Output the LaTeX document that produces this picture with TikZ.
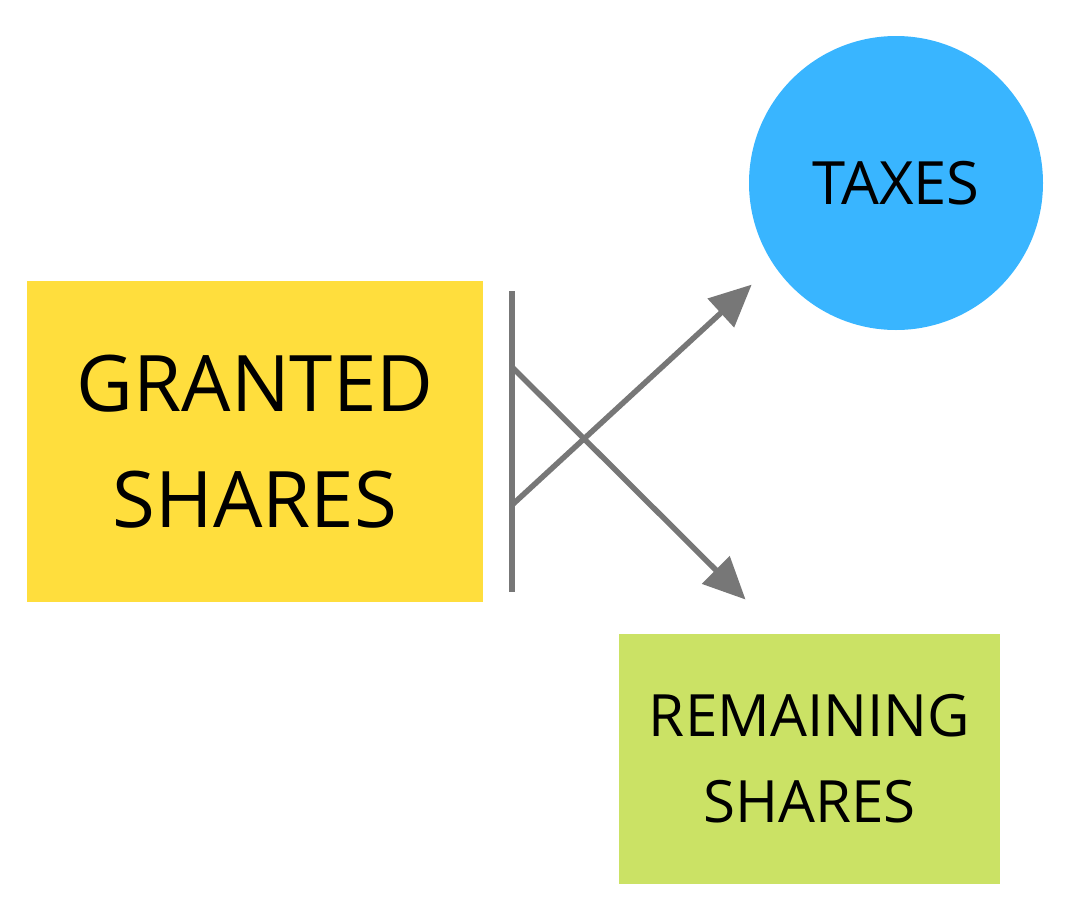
\documentclass[tikz,border=0pt]{standalone}
\usepackage{fontspec}
\setmainfont{Open Sans}
\usetikzlibrary{arrows.meta}
\definecolor{grantyellow}{HTML}{FFDE3D}
\definecolor{remaingreen}{HTML}{CBE265}
\definecolor{taxblue}{HTML}{39B5FF}
\definecolor{linegray}{HTML}{777777}
\begin{document}
\begin{tikzpicture}[
    x=1cm, y=-1cm,
    sharebox/.style={rectangle, inner sep=0pt, align=center, text=black},
    taxcircle/.style={circle, fill=taxblue, inner sep=0pt, minimum size=2.94cm},
    barline/.style={color=linegray, line width=0.055cm},
    flowarrow/.style={-{Triangle[length=0.42cm, width=0.38cm]}, color=linegray, line width=0.055cm, shorten >=-0.05cm}
]
    \useasboundingbox (0,0) rectangle (10.79,9.06);

    \node[sharebox, fill=grantyellow, minimum width=4.56cm, minimum height=3.21cm,
          font=\fontsize{22.2}{33}\selectfont] (granted) at (2.55,4.415) {GRANTED\\SHARES};
    \node[sharebox, fill=remaingreen, minimum width=3.81cm, minimum height=2.50cm,
          font=\fontsize{16.6}{24.4}\selectfont] (remaining) at (8.095,7.59) {REMAINING\\SHARES};
    \node[taxcircle, font=\fontsize{17}{20}\selectfont] (taxes) at (8.96,1.83) {TAXES};

    \coordinate (bartop) at (5.12,2.91);
    \coordinate (barbottom) at (5.12,5.92);
    \coordinate (splitlow) at (5.12,5.05);
    \coordinate (splithigh) at (5.12,3.67);
    \coordinate (taxtip) at (7.48,2.88);
    \coordinate (remaintip) at (7.42,5.96);

    \draw[barline] (bartop) -- (barbottom);
    \draw[flowarrow] (splitlow) -- (taxtip);
    \draw[flowarrow] (splithigh) -- (remaintip);
\end{tikzpicture}
\end{document}
